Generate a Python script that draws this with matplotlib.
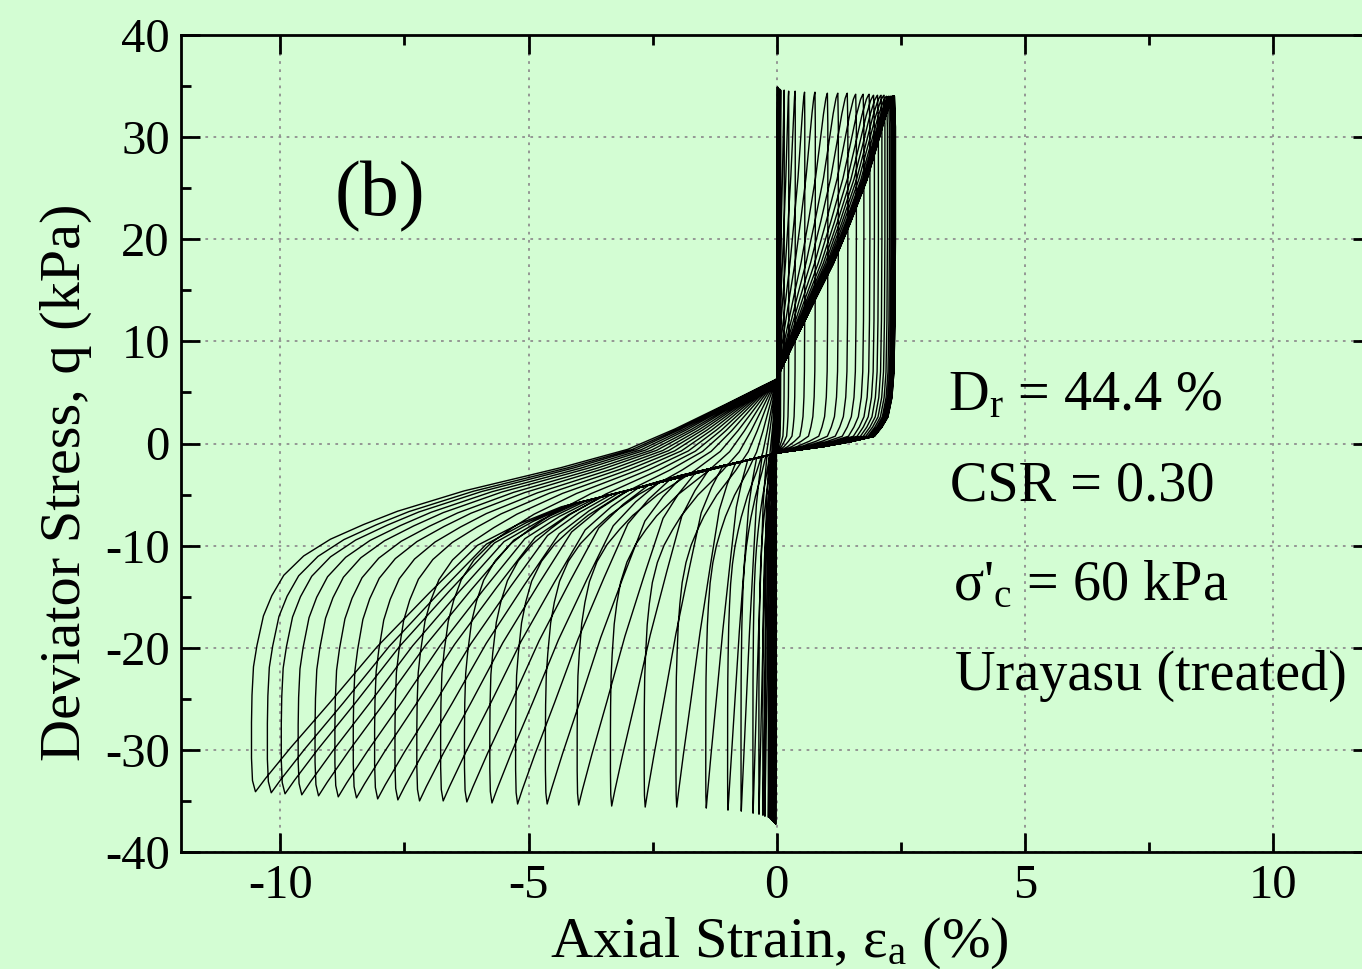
import numpy as np
import matplotlib
matplotlib.use("Agg")
import matplotlib.pyplot as plt
from matplotlib.ticker import MultipleLocator

plt.rcParams['font.family'] = ['Liberation Serif', 'DejaVu Serif']
plt.rcParams['mathtext.fontset'] = 'custom'
plt.rcParams['mathtext.rm'] = 'Liberation Serif'
plt.rcParams['mathtext.it'] = 'Liberation Serif:italic'
plt.rcParams['axes.unicode_minus'] = False

# peaks of each loading cycle in time order
comp_peak_strain = [0.01, 0.02, 0.02, 0.03, 0.03, 0.04, 0.05, 0.06, 0.08, 0.15,
                    0.24, 0.37, 0.56, 0.77, 1.02, 1.23, 1.42, 1.59, 1.74, 1.86,
                    1.95, 2.03, 2.10, 2.16, 2.21, 2.25, 2.28, 2.30, 2.32, 2.33,
                    2.34, 2.35, 2.36, 2.36, 2.37, 2.37, 2.36, 2.35, 2.34]
comp_peak_q = [34.9, 34.9, 34.8, 34.8, 34.8, 34.7, 34.7, 34.7, 34.6, 34.6,
               34.5, 34.5, 34.4, 34.4, 34.3, 34.3, 34.3, 34.2, 34.2, 34.2,
               34.1, 34.1, 34.1, 34.1, 34.0, 34.0, 34.0, 34.0, 34.0, 34.0,
               34.0, 34.0, 34.0, 34.0, 34.0, 34.0, 34.0, 34.0, 34.0]
ext_min_strain = [-0.02, -0.03, -0.04, -0.05, -0.06, -0.07, -0.08, -0.09, -0.10, -0.12,
                  -0.14, -0.17, -0.24, -0.28, -0.36, -0.48, -0.72, -0.99, -1.43, -2.03,
                  -2.67, -3.35, -4.02, -4.66, -5.26, -5.78, -6.29, -6.77, -7.25, -7.69,
                  -8.10, -8.53, -8.90, -9.30, -9.64, -9.98, -10.26, -10.58]
ext_min_q = [-37.3, -37.2, -37.2, -37.1, -37.1, -37.0, -37.0, -36.9, -36.9, -36.8,
             -36.7, -36.6, -36.5, -36.4, -36.3, -36.2, -36.0, -35.9, -35.7, -35.6,
             -35.6, -35.5, -35.4, -35.3, -35.3, -35.2, -35.1, -35.0, -35.0, -34.9,
             -34.8, -34.7, -34.6, -34.5, -34.4, -34.3, -34.2, -34.1]

# branch shapes traced from the last (largest) loop
comp_left_e = [-10.50, -10.56, -10.58, -10.58, -10.57, -10.54, -10.47, -10.34, -10.17,
               -9.93, -9.53, -8.99, -8.32, -7.64, -6.97, -6.30, -5.62, -4.34, -3.00,
               -2.05, -1.04, -0.30, 0.0]
comp_left_q = [-34.3, -33.2, -31.0, -27.5, -24.8, -22.0, -19.9, -17.0, -15.0,
               -13.0, -11.1, -9.45, -8.0, -6.7, -5.7, -4.7, -3.9, -2.4, -0.6,
               1.4, 3.8, 5.6, 6.3]
comp_right_e = [0.0, 0.12, 0.46, 0.79, 1.13, 1.47, 1.80, 2.00, 2.17, 2.28, 2.33, 2.35]
comp_right_q = [6.3, 7.6, 11.0, 14.3, 17.6, 21.6, 25.8, 29.1, 32.0, 33.5, 33.9, 34.0]
ext_right_e = [2.35, 2.37, 2.37, 2.36, 2.34, 2.30, 2.22, 2.10, 1.95, 1.50, 0.94, 0.19, 0.0]
ext_right_q = [34.0, 31.0, 20.0, 12.0, 7.0, 4.5, 2.6, 1.6, 0.7, 0.2, -0.3, -0.8, -0.95]
bundle_e = [0.0, -1.0, -2.0, -3.0, -4.34]
bundle_q = [-0.95, -2.1, -3.2, -4.6, -6.2]
diag_e = [-4.34, -5.2, -6.03, -7.0, -8.05, -9.0, -9.8, -10.3, -10.50]
diag_q = [-6.2, -7.9, -10.0, -14.7, -20.0, -25.5, -30.0, -33.0, -34.3]

A_REF = -10.58
B_REF = 2.35

cle, clq = np.array(comp_left_e), np.array(comp_left_q)
cre, crq = np.array(comp_right_e), np.array(comp_right_q)
ere, erq = np.array(ext_right_e), np.array(ext_right_q)
bde, bdq = np.array(bundle_e), np.array(bundle_q)
dge, dgq = np.array(diag_e), np.array(diag_q)


def compression(a, q_start, b, q_top):
    es, qs = [], []
    q_mid = crq[0]
    if a is not None:
        s = a / A_REF
        v = (clq - clq[0]) / (clq[-1] - clq[0])
        es.append(cle * s)
        qs.append(q_start + v * (q_mid - q_start))
    else:
        q_mid = q_start
    r = b / B_REF
    w = (crq - crq[0]) / (crq[-1] - crq[0])
    es.append(cre[1:] * r)
    qs.append((q_mid + w * (q_top - q_mid))[1:])
    return np.concatenate(es), np.concatenate(qs)


def extension(b, q_top, a, q_bot):
    r = b / B_REF
    w = (erq - erq[-1]) / (erq[0] - erq[-1])
    e1 = ere * r
    q1 = erq[-1] + w * (q_top - erq[-1])
    if a is None:
        keep = q1 > 0.1
        return e1[keep], q1[keep]
    s = a / A_REF
    e2 = bde * s
    q2 = bdq[0] + (bdq - bdq[0]) * s
    v = (dgq - dgq[0]) / (dgq[-1] - dgq[0])
    e3 = dge * s
    q3 = q2[-1] + v * (q_bot - q2[-1])
    return np.concatenate([e1, e2[1:], e3[1:]]), np.concatenate([q1, q2[1:], q3[1:]])


ee, qq = [np.array([0.0])], [np.array([0.0])]
prev_a, prev_q = None, 0.0
for i in range(len(comp_peak_strain)):
    e, q = compression(prev_a, prev_q, comp_peak_strain[i], comp_peak_q[i])
    ee.append(e)
    qq.append(q)
    if i < len(ext_min_strain):
        e, q = extension(comp_peak_strain[i], comp_peak_q[i], ext_min_strain[i], ext_min_q[i])
        prev_a, prev_q = ext_min_strain[i], ext_min_q[i]
    else:
        e, q = extension(comp_peak_strain[i], comp_peak_q[i], None, None)
    ee.append(e)
    qq.append(q)
strain = np.concatenate(ee)
stress = np.concatenate(qq)

bg = '#d3fdd3'
fig = plt.figure(figsize=(13.62, 9.69), dpi=100, facecolor=bg)
ax = fig.add_axes([181 / 1362, 117 / 969, 1191.5 / 1362, 817 / 969])
ax.set_facecolor(bg)

ax.plot(strain, stress, color='black', lw=1.0, solid_joinstyle='round')

ax.set_xlim(-12, 12)
ax.set_ylim(-40, 40)
ax.xaxis.set_major_locator(MultipleLocator(5))
ax.xaxis.set_minor_locator(MultipleLocator(2.5))
ax.yaxis.set_major_locator(MultipleLocator(10))
ax.yaxis.set_minor_locator(MultipleLocator(5))
ax.grid(True, which='major', color='#8f8f8f', linestyle=(0, (1.5, 3)), linewidth=1.3)
ax.tick_params(which='both', direction='in', top=True, right=True, width=2.0)
ax.tick_params(which='major', length=14, labelsize=35)
ax.tick_params(which='minor', length=7)
ax.tick_params(axis='x', pad=9)
ax.tick_params(axis='y', pad=8)
for sp in ax.spines.values():
    sp.set_linewidth(2.0)

fig.text(779 / 1362, 1 - 957 / 969, 'Axial Strain, ε$_\\mathrm{a}$ (%)', fontsize=42,
         ha='center', va='baseline')
fig.text(66 / 1362, 1 - 482 / 969, 'Deviator Stress, q (kPa)', fontsize=42,
         rotation=90, ha='center', va='center')

fig.text(380 / 1362, 1 - 215 / 969, '(b)', fontsize=56, ha='center', va='baseline')
fig.text(948 / 1362, 1 - 410 / 969, 'D$_\\mathrm{r}$ = 44.4 %', fontsize=40.5, va='baseline')
fig.text(950 / 1362, 1 - 500 / 969, 'CSR = 0.30', fontsize=40.5, va='baseline')
fig.text(953 / 1362, 1 - 600 / 969, "σ'$_\\mathrm{c}$ = 60 kPa", fontsize=40.5, va='baseline')
fig.text(955 / 1362, 1 - 690 / 969, 'Urayasu (treated)', fontsize=40.5, va='baseline')

fig.savefig('out.png', dpi=100, facecolor=bg)
